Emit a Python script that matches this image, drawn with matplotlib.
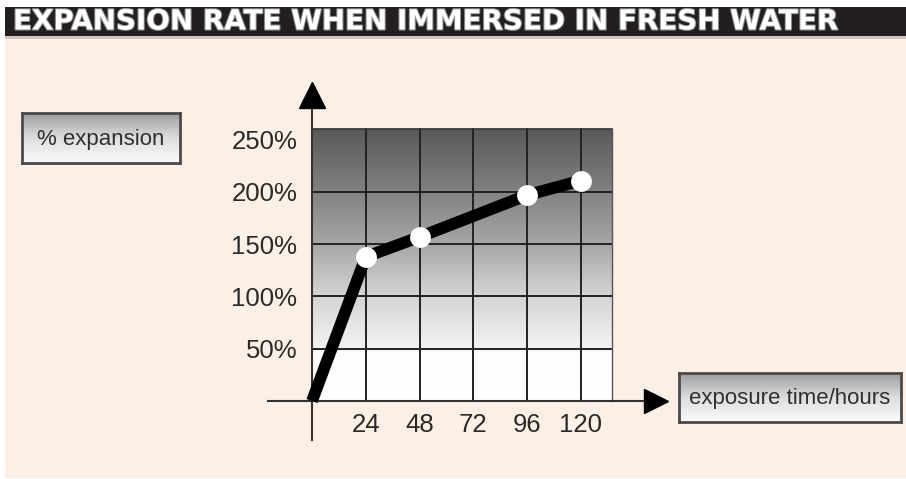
import numpy as np
import matplotlib
matplotlib.use("Agg")
import matplotlib.pyplot as plt
from matplotlib.colors import LinearSegmentedColormap
from matplotlib.patches import Rectangle
import matplotlib.patheffects as pe

# ---- data ----
hours = [0, 24, 48, 96, 120]
expansion = [0, 138, 157, 197, 211]
marker_hours = [24, 48, 96, 120]
marker_expansion = [138, 157, 197, 211]
x_ticks = [24, 48, 72, 96, 120]
x_tick_labels = ["24", "48", "72", "96", "120"]
y_ticks = [50, 100, 150, 200, 250]
y_tick_labels = ["50%", "100%", "150%", "200%", "250%"]
grid_y = [50, 100, 150, 200]
title = "EXPANSION RATE WHEN IMMERSED IN FRESH WATER"
y_label = "% expansion"
x_label = "exposure time/hours"

W, H = 906, 479
fig = plt.figure(figsize=(W / 100, H / 100), dpi=100)
fig.patch.set_facecolor("white")

def fx(px):
    return px / W

def fy(py):
    return 1 - py / H

# background panel
fig.patches.append(Rectangle((fx(5), fy(478)), fx(906) - fx(5), fy(36) - fy(478),
                             transform=fig.transFigure, facecolor="#fcf0e6",
                             edgecolor="none", zorder=-3))
# title bar
fig.patches.append(Rectangle((fx(5), fy(36)), fx(906) - fx(5), fy(7) - fy(36),
                             transform=fig.transFigure, facecolor="#231f20",
                             edgecolor="none", zorder=-2))
fig.patches.append(Rectangle((fx(5), fy(38.5)), fx(906) - fx(5), fy(36) - fy(38.5),
                             transform=fig.transFigure, facecolor="#cfc6bd",
                             edgecolor="none", zorder=-2))
fig.text(fx(13), fy(21.5), title, color="white", fontsize=20, fontweight="bold",
         family="DejaVu Sans", ha="left", va="center", zorder=3,
         path_effects=[pe.withStroke(linewidth=1.5, foreground="#8a8a8a")])

# ---- main axes ----
x_left, x_right = -19.63, 153.46
y_bot, y_top = -37.32, 293.3
ax = fig.add_axes([fx(268), fy(440), fx(656) - fx(268), fy(94.5) - fy(440)])
ax.set_facecolor("none")
ax.set_xlim(x_left, x_right)
ax.set_ylim(y_bot, y_top)

area_right, area_top = 134, 260
cmap = LinearSegmentedColormap.from_list(
    "bg", [(0.0, "#ffffff"), (0.18, "#fdfdfd"), (0.20, "#f2f2f2"),
           (0.40, "#d2d2d2"), (0.58, "#a6a6a6"), (0.78, "#808080"),
           (1.0, "#595959")])
grad = np.linspace(0, 1, 256).reshape(-1, 1)
ax.imshow(grad, extent=[0, area_right, 0, area_top], origin="lower",
          aspect="auto", cmap=cmap, zorder=1, interpolation="bilinear")

for gx in x_ticks:
    ax.plot([gx, gx], [0, area_top], color="#222222", lw=1.4, zorder=2)
for gy in grid_y:
    ax.plot([0, area_right], [gy, gy], color="#222222", lw=1.4, zorder=2)
ax.plot([0, area_right], [area_top, area_top], color="#333333", lw=1.2, zorder=2)
ax.plot([area_right, area_right], [0, area_top], color="#555555", lw=1.0, zorder=2)

ax.plot(hours, expansion, color="black", lw=8.5, solid_capstyle="butt",
        solid_joinstyle="round", zorder=4)
ax.plot(marker_hours, marker_expansion, "o", color="white", ms=15,
        markeredgewidth=0, zorder=5)

for side in ["top", "right"]:
    ax.spines[side].set_visible(False)
ax.spines["left"].set_position(("data", 0))
ax.spines["bottom"].set_position(("data", 0))
for side in ["left", "bottom"]:
    ax.spines[side].set_color("#333333")
    ax.spines[side].set_linewidth(1.5)
    ax.spines[side].set_zorder(3)

ax.set_xticks(x_ticks, labels=x_tick_labels)
ax.set_yticks(y_ticks, labels=y_tick_labels)
ax.tick_params(axis="both", length=0, labelsize=18.5, labelcolor="#2a2a2a")
ax.tick_params(axis="x", pad=8.5)
ax.tick_params(axis="y", pad=10.5)
for lab in ax.get_xticklabels() + ax.get_yticklabels():
    lab.set_family("Liberation Sans")

# arrow heads
ax.plot([1], [0], marker=">", color="black", ms=17, transform=ax.get_yaxis_transform(),
        clip_on=False, zorder=6)
ax.plot([0], [1], marker="^", color="black", ms=19, transform=ax.get_xaxis_transform(),
        clip_on=False, zorder=6)

# ---- label boxes ----
box_cmap = LinearSegmentedColormap.from_list("box", ["#fafafa", "#dedede", "#9c9c9c"])

def label_box(x0, y0, x1, y1, text):
    bax = fig.add_axes([fx(x0), fy(y1), fx(x1) - fx(x0), fy(y0) - fy(y1)])
    bax.imshow(grad, extent=[0, 1, 0, 1], origin="lower", aspect="auto",
               cmap=box_cmap, interpolation="bilinear")
    bax.set_xlim(0, 1)
    bax.set_ylim(0, 1)
    bax.set_xticks([])
    bax.set_yticks([])
    for s in bax.spines.values():
        s.set_color("#4a4a4a")
        s.set_linewidth(2)
    bax.text(0.5, 0.47, text, ha="center", va="center", fontsize=16,
             family="Liberation Sans", color="#2f2f2f")

label_box(22, 113, 180, 163, y_label)
label_box(679, 373, 901, 422, x_label)

fig.savefig("out.png", dpi=100, facecolor=fig.get_facecolor())
